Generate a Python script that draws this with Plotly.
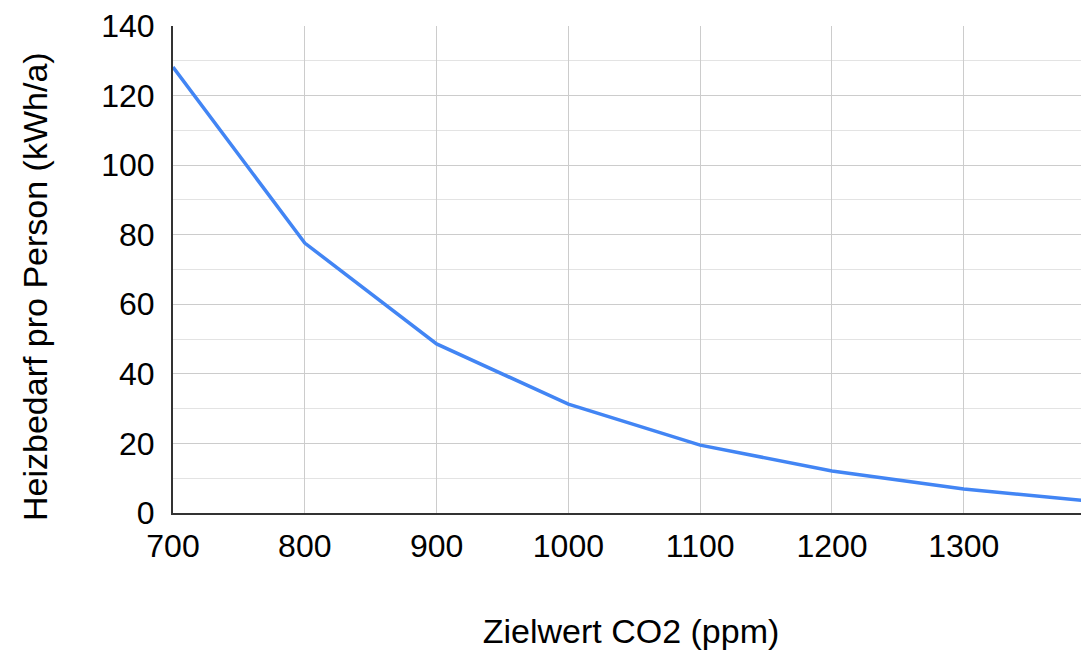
import plotly.graph_objects as go

# Zielwert CO2 (ppm) vs. Heizbedarf pro Person (kWh/a)
co2_ppm = [700, 800, 900, 1000, 1100, 1200, 1300, 1400]
heizbedarf = [128.2, 77.6, 48.6, 31.3, 19.5, 12.1, 6.9, 3.3]

x_ticks = [700, 800, 900, 1000, 1100, 1200, 1300]
y_ticks = [0, 20, 40, 60, 80, 100, 120, 140]

font_family = "Liberation Sans, Arial, sans-serif"

fig = go.Figure()
fig.add_trace(go.Scatter(
    x=co2_ppm, y=heizbedarf, mode="lines",
    line=dict(color="#4285F4", width=3.5),
    showlegend=False,
))

# page body has an 8px margin, so the figure is a bit smaller than the window
fig.update_layout(
    width=1081, height=649,
    paper_bgcolor="white", plot_bgcolor="white",
    margin=dict(l=165, r=0, t=18, b=144),
    font=dict(family=font_family, size=32, color="#000000"),
)

fig.update_xaxes(
    range=[700, 1395],
    tickvals=x_ticks,
    showgrid=True, gridcolor="#cccccc", gridwidth=1,
    showline=True, linecolor="#333333", linewidth=2,
    ticks="", ticklabelstandoff=4,
    zeroline=False, automargin=False,
    title=dict(text="Zielwert CO2 (ppm)", standoff=56, font=dict(size=34)),
)

fig.update_yaxes(
    range=[0, 140],
    tickvals=y_ticks,
    showgrid=True, gridcolor="#cccccc", gridwidth=1,
    minor=dict(dtick=10, showgrid=True, gridcolor="#e3e3e3", gridwidth=1),
    showline=True, linecolor="#333333", linewidth=2,
    ticks="", ticklabelstandoff=10,
    zeroline=False, automargin=False,
)

# y title sits slightly below the plot centre in the original
fig.add_annotation(
    text="Heizbedarf pro Person (kWh/a)",
    xref="paper", yref="paper", x=-0.1507, y=0.466,
    xanchor="center", yanchor="middle", textangle=-90,
    showarrow=False, font=dict(size=34),
)

fig.write_html("out.html")
